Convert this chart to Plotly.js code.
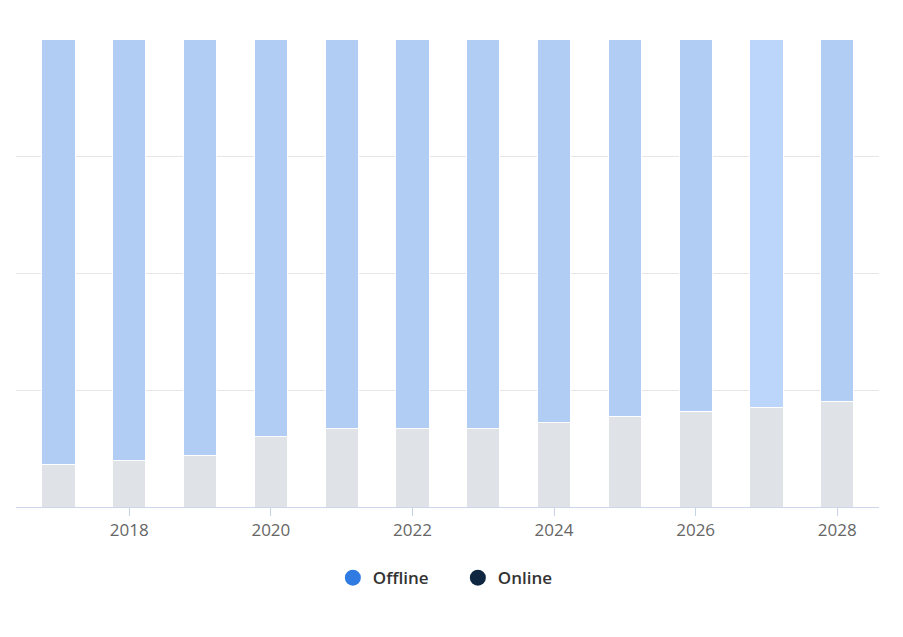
<!DOCTYPE html>
<html>
<head>
<meta charset="utf-8">
<script src="https://cdn.plot.ly/plotly-3.0.1.min.js"></script>
<style>html,body{margin:0;padding:0;background:#fff;}#chart{width:903px;height:637px;}</style>
</head>
<body>
<div id="chart"></div>
<script>
const years = [2017, 2018, 2019, 2020, 2021, 2022, 2023, 2024, 2025, 2026, 2027, 2028];
const online = [9.1, 10.0, 10.9, 15.0, 16.7, 16.7, 16.7, 18.0, 19.3, 20.5, 21.2, 22.5];
const offline = online.map(v => +(100 - v).toFixed(1));
const tickYears = [2018, 2020, 2022, 2024, 2026, 2028];
const seriesNames = ['Offline', 'Online'];

const offlineColors = years.map(y => y === 2027 ? '#bcd6fb' : '#b1cdf3');

const traces = [
  {type: 'bar', x: years, y: online, name: seriesNames[1], showlegend: false,
   marker: {color: '#dfe3e8', line: {color: '#ffffff', width: 1}}, width: 0.47, hoverinfo: 'x+y'},
  {type: 'bar', x: years, y: offline, name: seriesNames[0], showlegend: false,
   marker: {color: offlineColors, line: {color: '#ffffff', width: 1}}, width: 0.47, hoverinfo: 'x+y'},
  {type: 'scatter', mode: 'markers', x: [null], y: [null], name: seriesNames[0],
   marker: {color: '#2f7be2', size: 16, symbol: 'circle'}},
  {type: 'scatter', mode: 'markers', x: [null], y: [null], name: seriesNames[1],
   marker: {color: '#0f2740', size: 16, symbol: 'circle'}}
];

const layout = {
  width: 903, height: 637,
  margin: {l: 16, r: 24, t: 39, b: 130},
  paper_bgcolor: '#ffffff', plot_bgcolor: '#ffffff',
  barmode: 'stack',
  xaxis: {
    range: [2016.4, 2028.59],
    tickvals: tickYears, ticktext: tickYears.map(String),
    showgrid: false, zeroline: false,
    showline: true, linecolor: '#ccd6eb', linewidth: 1,
    ticks: 'outside', ticklen: 8, tickcolor: '#c8d2e6', tickwidth: 1,
    tickfont: {family: 'Open Sans, sans-serif', size: 17, color: '#666666'}
  },
  yaxis: {
    range: [0, 100], dtick: 25, showticklabels: false,
    showgrid: true, gridcolor: '#e6e6e6', gridwidth: 1, zeroline: false, fixedrange: true
  },
  showlegend: true,
  legend: {
    orientation: 'h', x: 0.512, xanchor: 'center', y: -0.152, yanchor: 'middle',
    font: {family: 'Open Sans, sans-serif', size: 17, color: '#333333', weight: 600},
    itemwidth: 30, traceorder: 'normal', entrywidth: 80, entrywidthmode: 'pixels'
  }
};

Plotly.newPlot('chart', traces, layout, {displayModeBar: false, staticPlot: true});
</script>
</body>
</html>
